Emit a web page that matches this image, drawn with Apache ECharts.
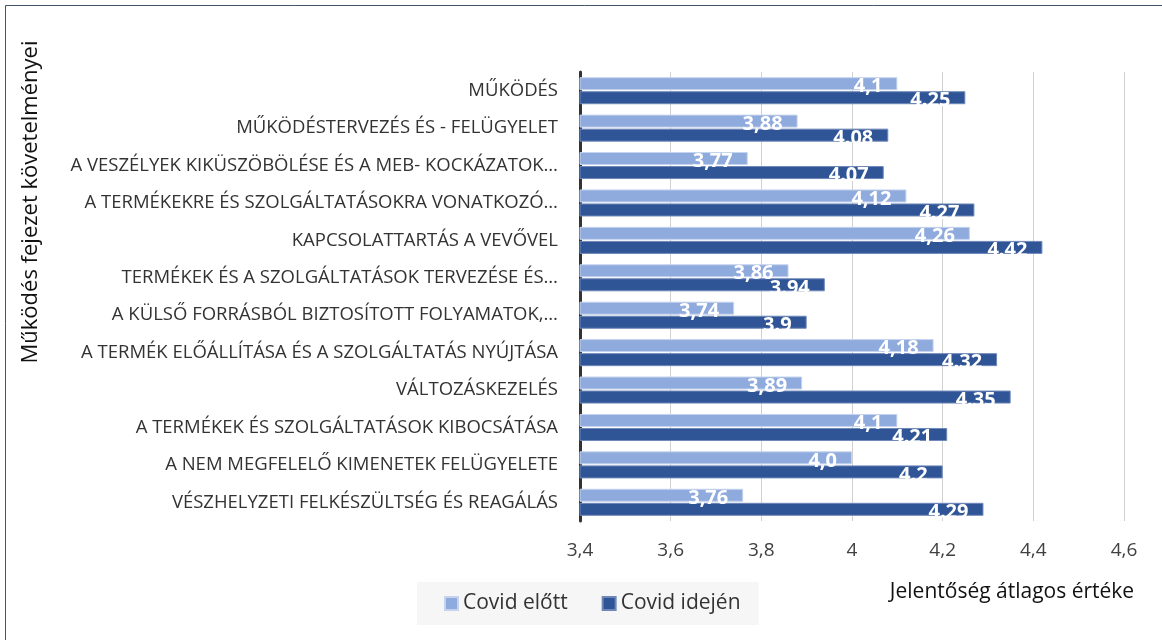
<!DOCTYPE html>
<html>
<head>
<meta charset="utf-8">
<script src="https://cdn.jsdelivr.net/npm/echarts@6/dist/echarts.min.js"></script>
<style>
  html, body { margin: 0; padding: 0; background: #fff; }
  #chart { width: 1162px; height: 640px; }
</style>
</head>
<body>
<div id="chart"></div>
<script>
var categories = [
    'MŰKÖDÉS',
    'MŰKÖDÉSTERVEZÉS ÉS - FELÜGYELET',
    'A VESZÉLYEK KIKÜSZÖBÖLÉSE ÉS A MEB- KOCKÁZATOK…',
    'A TERMÉKEKRE ÉS SZOLGÁLTATÁSOKRA VONATKOZÓ…',
    'KAPCSOLATTARTÁS A VEVŐVEL',
    'TERMÉKEK ÉS A SZOLGÁLTATÁSOK TERVEZÉSE ÉS…',
    'A KÜLSŐ FORRÁSBÓL BIZTOSÍTOTT FOLYAMATOK,…',
    'A TERMÉK ELŐÁLLÍTÁSA ÉS A SZOLGÁLTATÁS NYÚJTÁSA',
    'VÁLTOZÁSKEZELÉS',
    'A TERMÉKEK ÉS SZOLGÁLTATÁSOK KIBOCSÁTÁSA',
    'A NEM MEGFELELŐ KIMENETEK FELÜGYELETE',
    'VÉSZHELYZETI FELKÉSZÜLTSÉG ÉS REAGÁLÁS'
];
var before = [4.1, 3.88, 3.77, 4.12, 4.26, 3.86, 3.74, 4.18, 3.89, 4.1, 4.0, 3.76];
var during = [4.25, 4.08, 4.07, 4.27, 4.42, 3.94, 3.9, 4.32, 4.35, 4.21, 4.2, 4.29];
var beforeLabels = ['4,1', '3,88', '3,77', '4,12', '4,26', '3,86', '3,74', '4,18', '3,89', '4,1', '4,0', '3,76'];
var duringLabels = ['4.25', '4.08', '4.07', '4.27', '4.42', '3.94', '3.9', '4.32', '4.35', '4.21', '4.2', '4.29'];
var seriesNames = ['Covid előtt', 'Covid idején'];

var font = 'Open Sans';
var chart = echarts.init(document.getElementById('chart'));

function barLabel(texts) {
    return {
        show: true,
        position: 'insideRight',
        distance: 15,
        offset: [0, 3],
        color: '#fff',
        fontWeight: 'bold',
        fontSize: 20,
        fontFamily: font,
        formatter: function (p) { return texts[p.dataIndex]; }
    };
}

var option = {
    animation: false,
    backgroundColor: '#fff',
    grid: { left: 580, right: 38, top: 72, bottom: 119 },
    legend: {
        orient: 'horizontal',
        left: 417,
        top: 582,
        padding: [11, 18, 11, 27],
        itemGap: 34,
        itemWidth: 13,
        itemHeight: 13,
        icon: 'rect',
        backgroundColor: '#f6f6f6',
        textStyle: { fontSize: 21, fontFamily: font, color: '#333' },
        data: seriesNames
    },
    xAxis: {
        type: 'value',
        min: 3.4,
        max: 4.6,
        interval: 0.2,
        axisLine: { show: false },
        axisTick: { show: false },
        splitLine: { lineStyle: { color: '#d0d0d0', width: 1 } },
        axisLabel: {
            margin: 20,
            fontSize: 19,
            fontFamily: font,
            color: '#404040',
            formatter: function (v) { return String(Math.round(v * 10) / 10).replace('.', ','); }
        }
    },
    yAxis: {
        type: 'category',
        inverse: true,
        data: categories,
        axisLine: { lineStyle: { color: '#333', width: 3 } },
        axisTick: { show: false },
        axisLabel: { margin: 22, fontSize: 18.5, fontFamily: font, color: '#333' }
    },
    series: [
        {
            name: seriesNames[0],
            type: 'bar',
            data: before,
            barWidth: 13,
            barGap: '8%',
            itemStyle: { color: '#8faadc', borderColor: '#c5d3ee', borderWidth: 1 },
            label: barLabel(beforeLabels)
        },
        {
            name: seriesNames[1],
            type: 'bar',
            data: during,
            barWidth: 13,
            itemStyle: { color: '#2f5597', borderColor: '#6f88b8', borderWidth: 1 },
            label: barLabel(duringLabels)
        }
    ],
    graphic: [
        {
            type: 'rect',
            shape: { x: 5.5, y: 5.5, width: 1170, height: 650 },
            style: { fill: null, stroke: '#44546a', lineWidth: 1 }
        },
        {
            type: 'text',
            x: 31,
            y: 202,
            rotation: Math.PI / 2,
            style: {
                text: 'Működés fejezet követelményei',
                font: '22px "' + font + '"',
                fill: '#111',
                align: 'center',
                verticalAlign: 'middle'
            }
        },
        {
            type: 'text',
            x: 1012,
            y: 592,
            style: {
                text: 'Jelentőség átlagos értéke',
                font: '21px "' + font + '"',
                fill: '#111',
                align: 'center',
                verticalAlign: 'middle'
            }
        }
    ]
};
chart.setOption(option);
</script>
</body>
</html>
